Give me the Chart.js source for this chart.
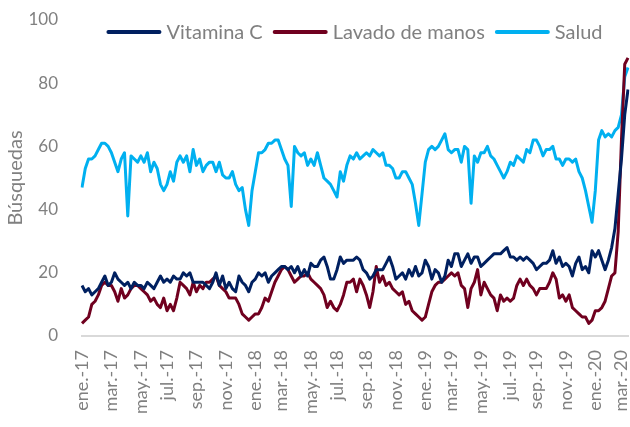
<!DOCTYPE html>
<html>
<head>
<meta charset="utf-8">
<script src="https://cdn.jsdelivr.net/npm/chart.js@4.4.0/dist/chart.umd.min.js"></script>
<style>
  html, body { margin: 0; padding: 0; background: #fff; }
</style>
</head>
<body>
<canvas id="busquedas" width="630" height="427"></canvas>
<script>
// etiquetas del eje x (cada dos meses)
const tickLabels = ["ene.-17", "mar.-17", "may.-17", "jul.-17", "sep.-17", "nov.-17",
	"ene.-18", "mar.-18", "may.-18", "jul.-18", "sep.-18", "nov.-18",
	"ene.-19", "mar.-19", "may.-19", "jul.-19", "sep.-19", "nov.-19",
	"ene.-20", "mar.-20"];

// búsquedas semanales, desde la semana del 1 ene. 2017
const vitaminaC = [
	16, 14, 15, 13, 14, 15, 17, 19, 16, 17, 20, 18, 17, 16, 17, 15, 17, 16, 16, 15,
	17, 16, 15, 17, 19, 17, 18, 17, 19, 18, 18, 20, 19, 20, 17, 17, 17, 17, 16, 15,
	17, 20, 16, 19, 15, 17, 15, 14, 19, 17, 16, 14, 17, 18, 20, 19, 20, 17, 19, 20,
	21, 22, 22, 21, 22, 20, 22, 19, 21, 19, 23, 22, 22, 24, 25, 22, 18, 18, 21, 25,
	23, 24, 24, 24, 25, 24, 21, 20, 18, 19, 21, 21, 21, 23, 25, 22, 18, 19, 20, 18,
	21, 19, 22, 19, 20, 24, 22, 18, 21, 20, 17, 19, 24, 22, 26, 26, 22, 24, 26, 23,
	25, 25, 22, 23, 24, 25, 26, 26, 26, 27, 28, 25, 25, 24, 25, 24, 25, 24, 23, 21,
	22, 23, 23, 24, 27, 23, 25, 22, 23, 22, 19, 23, 25, 21, 22, 20, 27, 25, 27, 24,
	21, 24, 28, 34, 45, 56, 70, 78];
const lavadoManos = [
	4, 5, 6, 10, 11, 13, 16, 17, 16, 16, 14, 11, 15, 12, 13, 15, 16, 16, 15, 14,
	13, 11, 12, 10, 9, 12, 8, 10, 8, 12, 17, 16, 15, 13, 17, 14, 16, 15, 17, 17,
	18, 19, 16, 15, 14, 12, 12, 12, 10, 7, 6, 5, 6, 7, 7, 9, 12, 11, 14, 17,
	19, 21, 22, 21, 19, 17, 18, 19, 19, 20, 18, 17, 16, 15, 13, 9, 11, 9, 8, 10,
	13, 17, 17, 18, 14, 18, 16, 13, 9, 14, 22, 17, 19, 16, 17, 15, 14, 13, 14, 10,
	11, 8, 7, 6, 5, 6, 10, 14, 16, 17, 17, 18, 19, 20, 19, 20, 16, 15, 9, 15,
	17, 21, 13, 17, 15, 13, 12, 8, 13, 11, 12, 11, 12, 16, 18, 16, 18, 16, 15, 13,
	15, 15, 15, 17, 20, 18, 12, 13, 11, 13, 9, 8, 7, 6, 6, 4, 5, 8, 8, 9,
	11, 15, 19, 20, 33, 62, 86, 88];
const salud = [
	47, 53, 56, 56, 57, 59, 61, 61, 60, 58, 55, 52, 56, 58, 38, 57, 56, 55, 57, 55,
	58, 52, 55, 53, 48, 46, 48, 52, 49, 55, 57, 55, 57, 52, 59, 54, 56, 52, 54, 55,
	55, 52, 55, 51, 50, 50, 52, 48, 46, 47, 40, 35, 46, 52, 58, 58, 59, 61, 61, 62,
	62, 59, 56, 54, 41, 60, 58, 57, 58, 54, 56, 54, 58, 54, 50, 49, 48, 46, 44, 52,
	49, 54, 57, 56, 58, 56, 57, 58, 57, 59, 58, 57, 58, 54, 54, 53, 50, 50, 52, 52,
	50, 48, 42, 35, 45, 55, 59, 60, 59, 60, 62, 64, 59, 58, 59, 59, 55, 60, 59, 42,
	57, 55, 58, 58, 60, 57, 56, 54, 52, 50, 52, 55, 54, 57, 56, 55, 59, 58, 62, 62,
	60, 57, 59, 59, 60, 56, 56, 54, 56, 56, 55, 56, 52, 50, 46, 41, 36, 46, 62, 65,
	63, 64, 63, 65, 66, 70, 82, 85];

// semanas (categorías del eje x)
const weeks = vitaminaC.map((v, i) => {
	const d = new Date(2017, 0, 1 + 7 * i);
	return d.getFullYear() + "-" + (d.getMonth() + 1) + "-" + d.getDate();
});

// índice de la primera semana de cada mes etiquetado
const tickAt = {};
tickLabels.forEach((label, k) => {
	const days = Math.round((new Date(2017, 2 * k, 1) - new Date(2017, 0, 1)) / 86400000);
	tickAt[Math.ceil(days / 7)] = label;
});

const gris = "#808080";
const fuente = "Lato, 'Open Sans', sans-serif";

// leyenda horizontal dibujada dentro del área del gráfico
const leyendaArriba = {
	id: "leyendaArriba",
	afterDraw(chart) {
		const c = chart.ctx;
		const area = chart.chartArea;
		const lineLen = 53;
		const gapText = 6;
		const gapItem = 11;
		c.save();
		c.font = "20px " + fuente;
		c.textBaseline = "middle";
		const items = chart.data.datasets.map((ds) => ({
			text: ds.label,
			color: ds.borderColor,
			w: lineLen + gapText + c.measureText(ds.label).width,
		}));
		const total = items.reduce((s, it) => s + it.w, 0) + gapItem * (items.length - 1);
		let x = (area.left + area.right) / 2 - total / 2;
		const y = area.top + 12;
		items.forEach((it) => {
			c.strokeStyle = it.color;
			c.lineWidth = 4;
			c.lineCap = "round";
			c.beginPath();
			c.moveTo(x + 1, y);
			c.lineTo(x + lineLen - 1, y);
			c.stroke();
			c.fillStyle = gris;
			c.fillText(it.text, x + lineLen + gapText, y + 1);
			x += it.w + gapItem;
		});
		c.restore();
	},
};

const ctx = document.getElementById("busquedas");

new Chart(ctx, {
	type: "line",
	data: {
		labels: weeks,
		datasets: [
			{ label: "Vitamina C", data: vitaminaC, borderColor: "#002060", backgroundColor: "#002060" },
			{ label: "Lavado de manos", data: lavadoManos, borderColor: "#70001f", backgroundColor: "#70001f" },
			{ label: "Salud", data: salud, borderColor: "#00b0f0", backgroundColor: "#00b0f0" },
		],
	},
	options: {
		responsive: false,
		animation: false,
		devicePixelRatio: 1,
		elements: {
			line: { borderWidth: 3, tension: 0, borderJoinStyle: "round" },
			point: { radius: 0 },
		},
		layout: {
			padding: { top: 0, right: 2, left: 4, bottom: 0 },
		},
		plugins: {
			legend: { display: false },
			tooltip: { enabled: false },
		},
		scales: {
			x: {
				type: "category",
				offset: false,
				grid: { display: false },
				border: { display: true, color: "#d9d9d9", width: 2 },
				ticks: {
					autoSkip: false,
					maxRotation: 90,
					minRotation: 90,
					padding: 6,
					color: gris,
					font: { family: fuente, size: 18 },
					callback: (value) => tickAt[value] || "",
				},
				afterFit(scale) {
					scale.height = 91;
					scale.paddingLeft = 0;
					scale.paddingRight = 0;
				},
			},
			y: {
				min: 0,
				max: 100,
				grid: { display: false, drawTicks: false },
				border: { display: false },
				ticks: {
					stepSize: 20,
					padding: 24,
					color: gris,
					font: { family: fuente, size: 17 },
				},
				title: {
					display: true,
					text: "Búsquedas",
					color: gris,
					padding: 0,
					font: { family: fuente, size: 20 },
				},
				afterFit(scale) {
					scale.width = 78;
					scale.paddingTop = 20;
					scale.paddingBottom = 0;
				},
			},
		},
	},
	plugins: [leyendaArriba],
});
</script>
</body>
</html>
